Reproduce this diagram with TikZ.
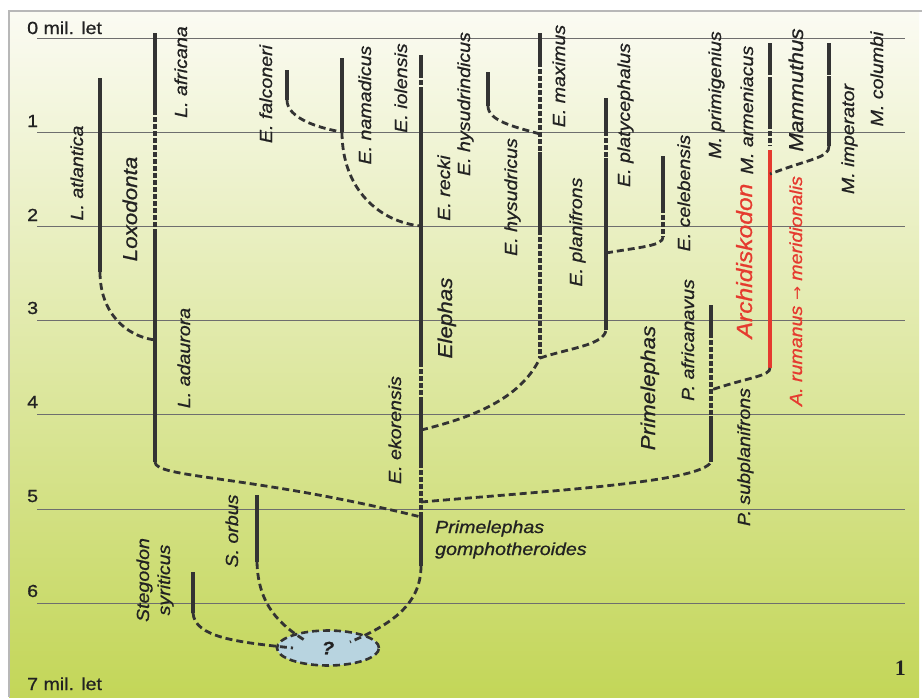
\documentclass[tikz,border=0pt]{standalone}
\usepackage{fontspec}
\setsansfont[FakeStretch=1.12,FakeBold=0.8]{Liberation Sans}
\newfontfamily\numfont{Liberation Serif}
\newfontfamily\arrfont[FakeStretch=1.12]{DejaVu Sans}
\usetikzlibrary{shapes.geometric}
\definecolor{ln}{HTML}{333333}
\definecolor{txt}{HTML}{222222}
\definecolor{redl}{HTML}{E53A2F}
\definecolor{gridc}{HTML}{6E6E6E}
\definecolor{frm}{HTML}{B8B8B8}
\definecolor{bgtop}{HTML}{FBFBF3}
\definecolor{bgmid}{HTML}{E1E8B6}
\definecolor{bgbot}{HTML}{C3D658}
\definecolor{qfill}{HTML}{B8D4E0}
\tikzset{
  lin/.style={line width=3.4pt, draw=ln},
  dotl/.style={line width=3.4pt, draw=ln, dash pattern=on 4.5pt off 2.5pt},
  conn/.style={line width=2.8pt, draw=ln, dash pattern=on 7pt off 4pt},
  redline/.style={line width=3.2pt, draw=redl},
  sp/.style={rotate=90, anchor=base, inner sep=0pt, text=txt, font=\sffamily\itshape\fontsize{17.5}{21}\selectfont},
  bigsp/.style={sp, font=\sffamily\itshape\fontsize{20}{24}\selectfont},
  scl/.style={anchor=base west, inner sep=0pt, text=txt, font=\sffamily\fontsize{17.5}{21}\selectfont},
  gridl/.style={draw=gridc, line width=0.9pt},
}
\begin{document}
\begin{tikzpicture}[x=1pt,y=-1pt]
\useasboundingbox (0,0) rectangle (922,697);
\fill[white] (0,0) rectangle (922,697);
\shade[top color=bgtop, middle color=bgmid, bottom color=bgbot] (9,11) rectangle (919,697);
\draw[frm, line width=2pt] (922,11) -- (9,11) -- (9,697);
\foreach \yy in {38,132,226,320,414,509,603} \draw[gridl] (37,\yy) -- (905,\yy);

% scale labels
\node[scl] (s0) at (27,34) {0 mil. let};
\node[scl] (s1) at (27,127) {1};
\node[scl] (s2) at (27,221) {2};
\node[scl] (s3) at (27,314) {3};
\node[scl] (s4) at (27,408) {4};
\node[scl] (s5) at (27,502) {5};
\node[scl] (s6) at (27,597) {6};
\node[scl] (s7) at (27,690) {7 mil. let};

% ---------- coordinates ----------
\coordinate (atlT) at (100,78);
\coordinate (atlB) at (100,272);
\coordinate (afrT) at (155,33);
\coordinate (afrD1) at (155,110);
\coordinate (afrD2) at (155,229);
\coordinate (adaJ) at (155,340);
\coordinate (afrB) at (155,462);
\coordinate (eT) at (421,55);
\coordinate (eA) at (421,73);
\coordinate (eB) at (421,87);
\coordinate (eRJ) at (421,226);
\coordinate (eC) at (421,362);
\coordinate (eD) at (421,397);
\coordinate (eHJ) at (421,430);
\coordinate (eE) at (421,463);
\coordinate (ePJ) at (421,502);
\coordinate (gT) at (421,517);
\coordinate (gB) at (421,566);
\coordinate (falT) at (287,70);
\coordinate (falB) at (287,100);
\coordinate (namT) at (342,58);
\coordinate (namB) at (342,132);
\coordinate (hyT) at (540,33);
\coordinate (hyA) at (540,62);
\coordinate (hyHJ) at (540,134);
\coordinate (hyB) at (540,152);
\coordinate (hyC) at (540,230);
\coordinate (hyBot) at (540,358);
\coordinate (hdT) at (488,72);
\coordinate (hdB) at (488,106);
\coordinate (plT) at (606,98);
\coordinate (plA) at (606,131);
\coordinate (plB) at (606,158);
\coordinate (plCJ) at (606,253);
\coordinate (plBot) at (606,330);
\coordinate (ceT) at (663,156);
\coordinate (ceA) at (663,208);
\coordinate (ceB) at (663,237);
\coordinate (mpT) at (770,43);
\coordinate (mpA) at (770,70);
\coordinate (mpB) at (770,77);
\coordinate (mpC) at (770,124);
\coordinate (mpD) at (770,146);
\coordinate (rT) at (770,150);
\coordinate (rIJ) at (770,174);
\coordinate (rB) at (770,368);
\coordinate (miT) at (829,43);
\coordinate (miA) at (829,70);
\coordinate (miB) at (829,76);
\coordinate (miC) at (829,114);
\coordinate (miD) at (829,119);
\coordinate (miE) at (829,146);
\coordinate (paT) at (711,305);
\coordinate (paA) at (711,333);
\coordinate (paJ) at (711,390);
\coordinate (paB) at (711,416);
\coordinate (paBot) at (711,462);
\coordinate (soT) at (257,495);
\coordinate (soB) at (257,562);
\coordinate (stT) at (193,572);
\coordinate (stB) at (193,613);
\coordinate (qR) at (350,642);
\coordinate (qL) at (306,641);
\coordinate (qW) at (293,648);

% ---------- ellipse ----------
\node[ellipse, draw=ln, line width=2.6pt, dash pattern=on 7pt off 4pt, fill=qfill,
      minimum width=102pt, minimum height=35pt, inner sep=0pt] (q) at (328,648) {};

% ---------- vertical lines ----------
\draw[lin] (atlT) -- (atlB);
\draw[lin] (afrT) -- (afrD1);
\draw[dotl] (afrD1) -- (afrD2);
\draw[lin] (afrD2) -- (afrB);

\draw[lin] (eT) -- (eA);
\draw[dotl] (eA) -- (eB);
\draw[lin] (eB) -- (eC);
\draw[dotl] (eC) -- (eD);
\draw[lin] (eD) -- (eE);
\draw[dotl] (eE) -- (gT);
\draw[lin] (gT) -- (gB);

\draw[lin] (falT) -- (falB);
\draw[lin] (namT) -- (namB);

\draw[lin] (hyT) -- (hyA);
\draw[dotl] (hyA) -- (hyB);
\draw[lin] (hyB) -- (hyC);
\draw[dotl] (hyC) -- (hyBot);
\draw[lin] (hdT) -- (hdB);

\draw[lin] (plT) -- (plA);
\draw[dotl] (plA) -- (plB);
\draw[lin] (plB) -- (plBot);
\draw[lin] (ceT) -- (ceA);
\draw[dotl] (ceA) -- (ceB);

\draw[lin] (mpT) -- (mpA);
\draw[dotl] (mpA) -- (mpB);
\draw[lin] (mpB) -- (mpC);
\draw[dotl] (mpC) -- (mpD);
\draw[redline] (rT) -- (rB);
\draw[lin] (miT) -- (miA);
\draw[dotl] (miA) -- (miB);
\draw[lin] (miB) -- (miC);
\draw[dotl] (miC) -- (miD);
\draw[lin] (miD) -- (miE);

\draw[lin] (paT) -- (paA);
\draw[dotl] (paA) -- (paB);
\draw[lin] (paB) -- (paBot);

\draw[lin] (soT) -- (soB);
\draw[lin] (stT) -- (stB);

% ---------- dashed connectors ----------
\draw[conn] (atlB) .. controls (100,312) and (125,336) .. (adaJ);
\draw[conn] (afrB) .. controls (155,478) and (250,475) .. (gT);
\draw[conn] (falB) .. controls (287,118) and (318,128) .. (namB);
\draw[conn] (namB) .. controls (342,190) and (380,222) .. (eRJ);
\draw[conn] (hdB) .. controls (488,121) and (515,127) .. (hyHJ);
\draw[conn] (eHJ) .. controls (470,418) and (520,400) .. (hyBot);
\draw[conn] (hyBot) .. controls (570,348) and (604,345) .. (plBot);
\draw[conn] (plCJ) .. controls (640,247) and (663,246) .. (ceB);
\draw[conn] (miE) .. controls (829,158) and (812,158) .. (rIJ);
\draw[conn] (rB) .. controls (770,376) and (750,377) .. (paJ);
\draw[conn] (ePJ) .. controls (560,490) and (700,482) .. (paBot);
\draw[conn] (gB) .. controls (421,605) and (390,625) .. (qR);
\draw[conn] (soB) .. controls (258,605) and (280,625) .. (qL);
\draw[conn] (stB) .. controls (195,637) and (235,642) .. (qW);

\node[inner sep=0pt, text=txt, font=\sffamily\bfseries\itshape\fontsize{18}{20}\selectfont] (qm) at (q.center) {?};

% ---------- labels ----------
\node[sp] (lAtl) at (83,173) {L. atlantica};
\node[bigsp] (lLox) at (137,209) {Loxodonta};
\node[sp] (lAfr) at (187,72) {L. africana};
\node[sp] (lAda) at (190,358) {L. adaurora};
\node[sp] (lFal) at (272,94) {E. falconeri};
\node[sp] (lNam) at (371,105) {E. namadicus};
\node[sp] (lIol) at (407,88) {E. iolensis};
\node[sp] (lHyd) at (470,104) {E. hysudrindicus};
\node[sp] (lRec) at (450,188) {E. recki};
\node[sp] (lMax) at (565,76) {E. maximus};
\node[sp] (lHys) at (517,197) {E. hysudricus};
\node[sp] (lPla) at (582,232) {E. planifrons};
\node[sp] (lPlc) at (630,115) {E. platycephalus};
\node[sp] (lCel) at (690,193) {E. celebensis};
\node[sp] (lPri) at (721,95) {M. primigenius};
\node[sp] (lArm) at (753,110) {M. armeniacus};
\node[bigsp] (lMam) at (803,90) {Mammuthus};
\node[sp] (lImp) at (854,139) {M. imperator};
\node[sp] (lCol) at (883,79) {M. columbi};
\node[bigsp, text=redl, font=\sffamily\itshape\fontsize{22}{24}\selectfont] (lArc) at (752,261) {Archidiskodon};
\node[sp, text=redl] (lRum) at (802,291) {A. rumanus {\arrfont\fontsize{15}{18}\selectfont →} meridionalis};
\node[sp] (lEko) at (401,430) {E. ekorensis};
\node[bigsp] (lEle) at (452,318) {Elephas};
\node[bigsp] (lPrm) at (655,388) {Primelephas};
\node[sp] (lPaf) at (694,340) {P. africanavus};
\node[sp] (lPsu) at (750,457) {P. subplanifrons};
\node[sp] (lSor) at (238,531) {S. orbus};
\node[sp, font=\sffamily\itshape\fontsize{17.5}{21}\selectfont] (lSte) at (149,580)
  {\begin{tabular}[t]{@{}c@{}}Stegodon\\syriticus\end{tabular}};
\node[anchor=base west, inner sep=0pt, text=txt, font=\sffamily\itshape\fontsize{17.5}{22}\selectfont] (lGom) at (435,533)
  {\begin{tabular}[t]{@{}l@{}}Primelephas\\gomphotheroides\end{tabular}};

\node[anchor=base east, inner sep=0pt, text=txt, font=\numfont\bfseries\fontsize{22}{24}\selectfont] (num) at (906,675) {1};
\end{tikzpicture}
\end{document}
